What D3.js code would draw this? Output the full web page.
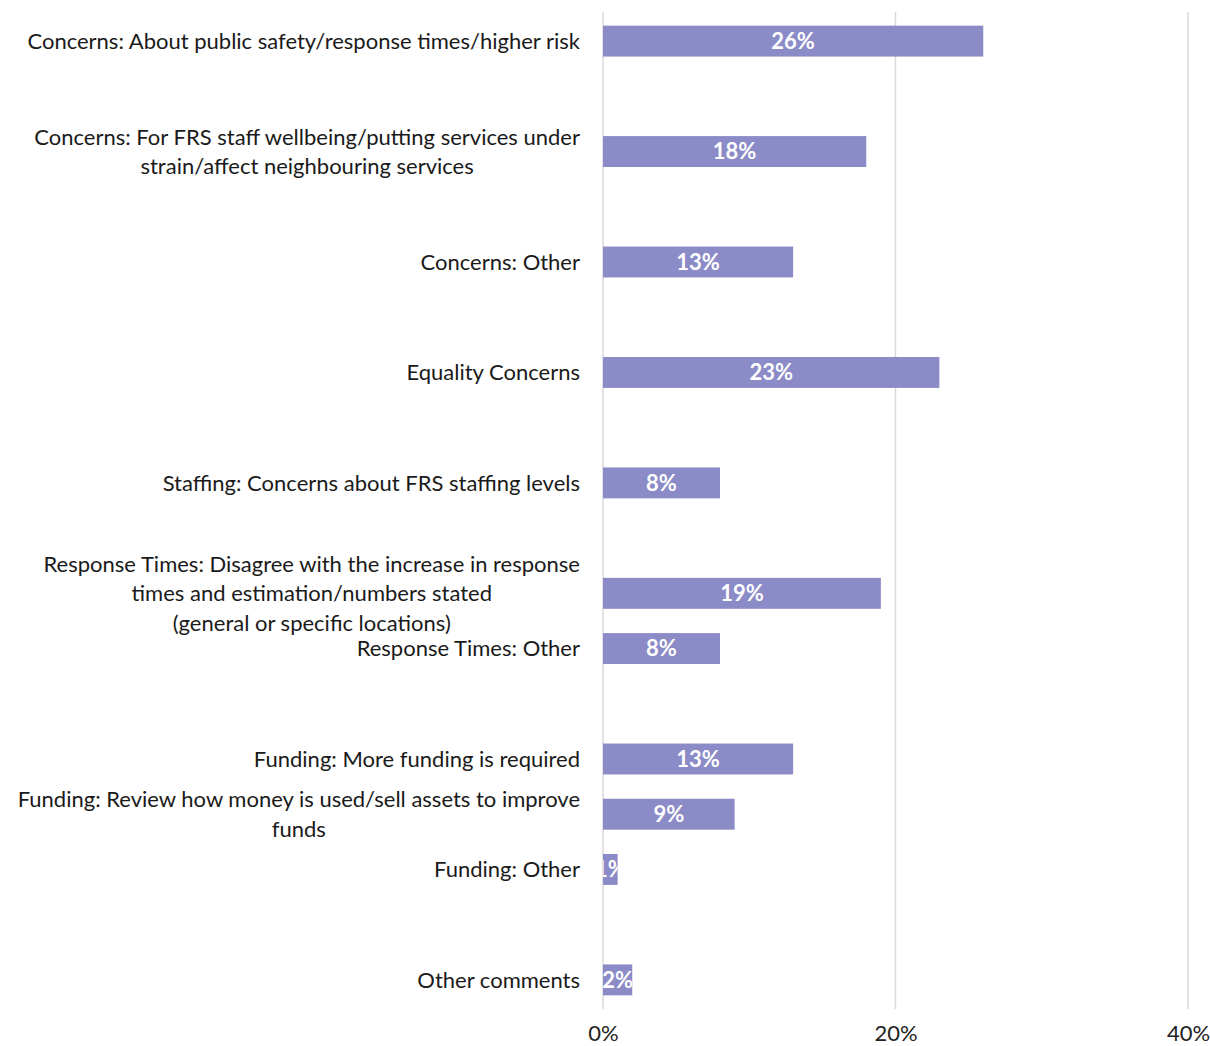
<!DOCTYPE html>
<html>
<head>
<meta charset="utf-8">
<script src="https://cdn.jsdelivr.net/npm/d3@7"></script>
<style>
  html, body { margin: 0; padding: 0; background: #fff; }
  svg { display: block; font-family: Lato, "Open Sans", sans-serif; }
</style>
</head>
<body>
<svg id="chart" width="1210" height="1046"></svg>
<script>
// Category rows, top to bottom; empty strings are spacer rows between groups
const categories = [
  ["Concerns: About public safety/response times/higher risk"],
  [""],
  ["Concerns: For FRS staff wellbeing/putting services under", "strain/affect neighbouring services"],
  [""],
  ["Concerns: Other"],
  [""],
  ["Equality Concerns"],
  [""],
  ["Staffing: Concerns about FRS staffing levels"],
  [""],
  ["Response Times: Disagree with the increase in response", "times and estimation/numbers stated", "(general or specific locations)"],
  ["Response Times: Other"],
  [""],
  ["Funding: More funding is required"],
  ["Funding: Review how money is used/sell assets to improve", "funds"],
  ["Funding: Other"],
  [""],
  ["Other comments"]
];

// Share of comments (%) per row; null for spacer rows
const values = [26, null, 18, null, 13, null, 23, null, 8, null, 19, 8, null, 13, 9, 1, null, 2];

const xTicks = [0, 20, 40];
const tickLabels = ["0%", "20%", "40%"];

const svg = d3.select("#chart");
const barColor = "#8b8bc7";
const fontSize = 22;

const rows = categories.map((lines, i) => ({ i, lines, value: values[i] }));

const x = d3.scaleLinear().domain([0, 40]).range([603, 1188]);
const y = d3.scaleBand()
  .domain(rows.map(d => d.i))
  .range([13.5, 1007.5])
  .paddingInner(0.44)
  .paddingOuter(0.22);

// vertical gridlines
svg.append("g")
  .selectAll("line")
  .data(xTicks)
  .join("line")
  .attr("x1", d => x(d)).attr("x2", d => x(d))
  .attr("y1", 12).attr("y2", 1009)
  .attr("stroke", "#d9d9d9")
  .attr("stroke-width", 1.5);

// x axis tick labels
const xAxis = d3.axisBottom(x)
  .tickValues(xTicks)
  .tickFormat((d, i) => tickLabels[i])
  .tickSize(0)
  .tickPadding(0);
const gx = svg.append("g")
  .attr("transform", "translate(0,1025)")
  .call(xAxis);
gx.select(".domain").remove();
gx.selectAll("text")
  .attr("font-family", "Lato, 'Open Sans', sans-serif")
  .attr("font-size", fontSize)
  .attr("fill", "#222");

const bars = rows.filter(d => d.value !== null);

svg.append("g")
  .selectAll("rect")
  .data(bars)
  .join("rect")
  .attr("x", x(0))
  .attr("y", d => y(d.i))
  .attr("width", d => x(d.value) - x(0))
  .attr("height", y.bandwidth())
  .attr("fill", barColor);

// value labels inside the bars, clipped to each bar
const defs = svg.append("defs");
bars.forEach(d => {
  defs.append("clipPath").attr("id", "clip" + d.i)
    .append("rect")
    .attr("x", x(0)).attr("y", y(d.i))
    .attr("width", x(d.value) - x(0)).attr("height", y.bandwidth());
});

svg.append("g")
  .selectAll("text")
  .data(bars)
  .join("text")
  .attr("clip-path", d => `url(#clip${d.i})`)
  .attr("x", d => (x(0) + x(d.value)) / 2)
  .attr("y", d => y(d.i) + y.bandwidth() / 2)
  .attr("dy", "0.36em")
  .attr("text-anchor", "middle")
  .attr("font-size", fontSize)
  .attr("font-weight", "bold")
  .attr("fill", "#fff")
  .text(d => d.value + "%");

// category labels: block right-aligned at the axis, wrapped lines centred
const lineH = 29.5;
const labelRight = 580;
const labelG = svg.append("g");
rows.filter(d => d.lines[0] !== "").forEach(d => {
  const cy = y(d.i) + y.bandwidth() / 2;
  const g = labelG.append("g");
  const texts = d.lines.map((ln, k) =>
    g.append("text")
      .attr("y", cy + (k - (d.lines.length - 1) / 2) * lineH)
      .attr("dy", "0.36em")
      .attr("font-size", fontSize)
      .attr("fill", "#1a1a1a")
      .attr("text-anchor", "middle")
      .text(ln)
  );
  const widths = texts.map(t => t.node().getComputedTextLength());
  const maxW = d3.max(widths);
  const cx = labelRight - maxW / 2;
  texts.forEach(t => t.attr("x", cx));
});
</script>
</body>
</html>
